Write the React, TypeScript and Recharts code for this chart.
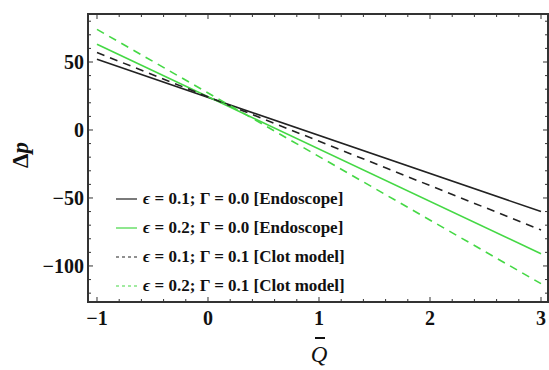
import { LineChart, Line, XAxis, YAxis, Legend, Label, ReferenceArea } from 'recharts';

// Q-bar endpoints and the Δp value of each curve there (straight lines)
const Q_VALUES = [-1, 3];
const ENDO_EPS01 = [52, -60];
const ENDO_EPS02 = [63, -91];
const CLOT_EPS01 = [57, -73.5];
const CLOT_EPS02 = [74, -113];

const X_TICKS = [-1, -0.8, -0.6, -0.4, -0.2, 0, 0.2, 0.4, 0.6, 0.8, 1, 1.2, 1.4, 1.6, 1.8, 2, 2.2, 2.4, 2.6, 2.8, 3];
const X_LABELS = [-1, 0, 1, 2, 3];
const Y_TICKS = [-120, -110, -100, -90, -80, -70, -60, -50, -40, -30, -20, -10, 0, 10, 20, 30, 40, 50, 60, 70, 80];
const Y_LABELS = [-100, -50, 0, 50];

const X_DOMAIN = [-1.081, 3.063];
const Y_DOMAIN = [-126.5, 85.3];

const SERIES = [
  { key: 'endo1', eps: '0.1', gam: '0.0', tag: '[Endoscope]', color: '#222222', dash: undefined },
  { key: 'endo2', eps: '0.2', gam: '0.0', tag: '[Endoscope]', color: '#45d845', dash: undefined },
  { key: 'clot1', eps: '0.1', gam: '0.1', tag: '[Clot model]', color: '#222222', dash: '8 6' },
  { key: 'clot2', eps: '0.2', gam: '0.1', tag: '[Clot model]', color: '#45d845', dash: '8 6' },
];

const data = Q_VALUES.map((q, i) => ({
  q,
  endo1: ENDO_EPS01[i],
  endo2: ENDO_EPS02[i],
  clot1: CLOT_EPS01[i],
  clot2: CLOT_EPS02[i],
}));

const FONT = '"Liberation Serif", "DejaVu Serif", serif';
const FRAME = '#333333';

const fmt = (v: number) => (v < 0 ? '\u2212' + Math.abs(v) : String(v));

function XTick(props: any) {
  const { x, y, payload, side } = props;
  const v = payload.value;
  const major = X_LABELS.includes(v);
  const len = major ? 5 : 3;
  const dir = side === 'top' ? 1 : -1;
  return (
    <g>
      <line x1={x} y1={y} x2={x} y2={y + dir * len} stroke={FRAME} strokeWidth={1} />
      {side !== 'top' && major && (
        <text x={x} y={y + 23} textAnchor="middle" fontFamily={FONT} fontWeight="bold" fontSize={20} fill="#111">
          {fmt(v)}
        </text>
      )}
    </g>
  );
}

function YTick(props: any) {
  const { x, y, payload, side } = props;
  const v = payload.value;
  const major = Y_LABELS.includes(v);
  const len = major ? 5 : 3;
  const dir = side === 'right' ? -1 : 1;
  return (
    <g>
      <line x1={x} y1={y} x2={x + dir * len} y2={y} stroke={FRAME} strokeWidth={1} />
      {side !== 'right' && major && (
        <text x={x - 4} y={y + 7} textAnchor="end" fontFamily={FONT} fontWeight="bold" fontSize={20} fill="#111">
          {fmt(v)}
        </text>
      )}
    </g>
  );
}

function LegendBox() {
  return (
    <div style={{ fontFamily: FONT, fontWeight: 'bold', fontSize: 17, color: '#111' }}>
      {SERIES.map((s) => (
        <div key={s.key} style={{ display: 'flex', alignItems: 'center', height: 28.8, whiteSpace: 'nowrap' }}>
          <svg width={26} height={10} style={{ marginRight: 5 }}>
            <line x1={4} y1={5} x2={25} y2={5} stroke={s.color} strokeWidth={1.2} strokeDasharray={s.dash ? '3 3' : undefined} />
          </svg>
          <span>
            <i>{'\u03f5'}</i> = {s.eps}; {'\u0393'} = {s.gam} {s.tag}
          </span>
        </div>
      ))}
    </div>
  );
}

export default function App() {
  return (
    <div style={{ position: 'absolute', left: 0, top: 0, width: 549, height: 370, background: '#fff' }}>
      <LineChart width={549} height={370} data={data} margin={{ top: 13, right: 0, bottom: 0, left: 0 }}>
        <XAxis
          dataKey="q"
          type="number"
          domain={X_DOMAIN}
          allowDataOverflow
          ticks={X_TICKS}
          interval={0}
          height={68}
          tickSize={0}
          tickMargin={0}
          axisLine={{ stroke: FRAME, strokeWidth: 2 }}
          tickLine={false}
          tick={(p: any) => <XTick {...p} side="bottom" />}
        >
          <Label
            content={() => (
              <g fontFamily={FONT}>
                <line x1={315} y1={338} x2={325} y2={338} stroke="#111" strokeWidth={2} />
                <text x={319} y={362} textAnchor="middle" fontStyle="italic" fontSize={23} fill="#111">
                  Q
                </text>
              </g>
            )}
          />
        </XAxis>
        <XAxis
          xAxisId="top"
          dataKey="q"
          orientation="top"
          type="number"
          domain={X_DOMAIN}
          allowDataOverflow
          ticks={X_TICKS}
          interval={0}
          height={1}
          tickSize={0}
          tickMargin={0}
          axisLine={false}
          tickLine={false}
          tick={(p: any) => <XTick {...p} side="top" />}
        />
        <YAxis
          type="number"
          domain={Y_DOMAIN}
          allowDataOverflow
          ticks={Y_TICKS}
          interval={0}
          width={88}
          tickSize={0}
          tickMargin={0}
          axisLine={{ stroke: FRAME, strokeWidth: 2 }}
          tickLine={false}
          tick={(p: any) => <YTick {...p} side="left" />}
        >
          <Label
            content={() => (
              <text
                transform="translate(28,155) rotate(-90)"
                textAnchor="middle"
                fontFamily={FONT}
                fontWeight="bold"
                fontSize={23}
                fill="#111"
              >
                {'\u0394'}
                <tspan fontStyle="italic">p</tspan>
              </text>
            )}
          />
        </YAxis>
        <YAxis
          yAxisId="right"
          orientation="right"
          type="number"
          domain={Y_DOMAIN}
          allowDataOverflow
          ticks={Y_TICKS}
          interval={0}
          width={1}
          tickSize={0}
          tickMargin={0}
          axisLine={false}
          tickLine={false}
          tick={(p: any) => <YTick {...p} side="right" />}
        />
        <ReferenceArea
          x1={X_DOMAIN[0]}
          x2={X_DOMAIN[1]}
          y1={Y_DOMAIN[0]}
          y2={Y_DOMAIN[1]}
          fill="none"
          stroke={FRAME}
          strokeWidth={2}
          ifOverflow="visible"
        />
        <Legend
          layout="vertical"
          align="center"
          verticalAlign="middle"
          content={() => <LegendBox />}
          wrapperStyle={{ position: 'absolute', left: 112, top: 185, width: 270 }}
        />
        {SERIES.map((s) => (
          <Line
            key={s.key}
            dataKey={s.key}
            type="linear"
            stroke={s.color}
            strokeWidth={1.6}
            strokeDasharray={s.dash}
            dot={false}
            activeDot={false}
            isAnimationActive={false}
          />
        ))}
      </LineChart>
    </div>
  );
}
